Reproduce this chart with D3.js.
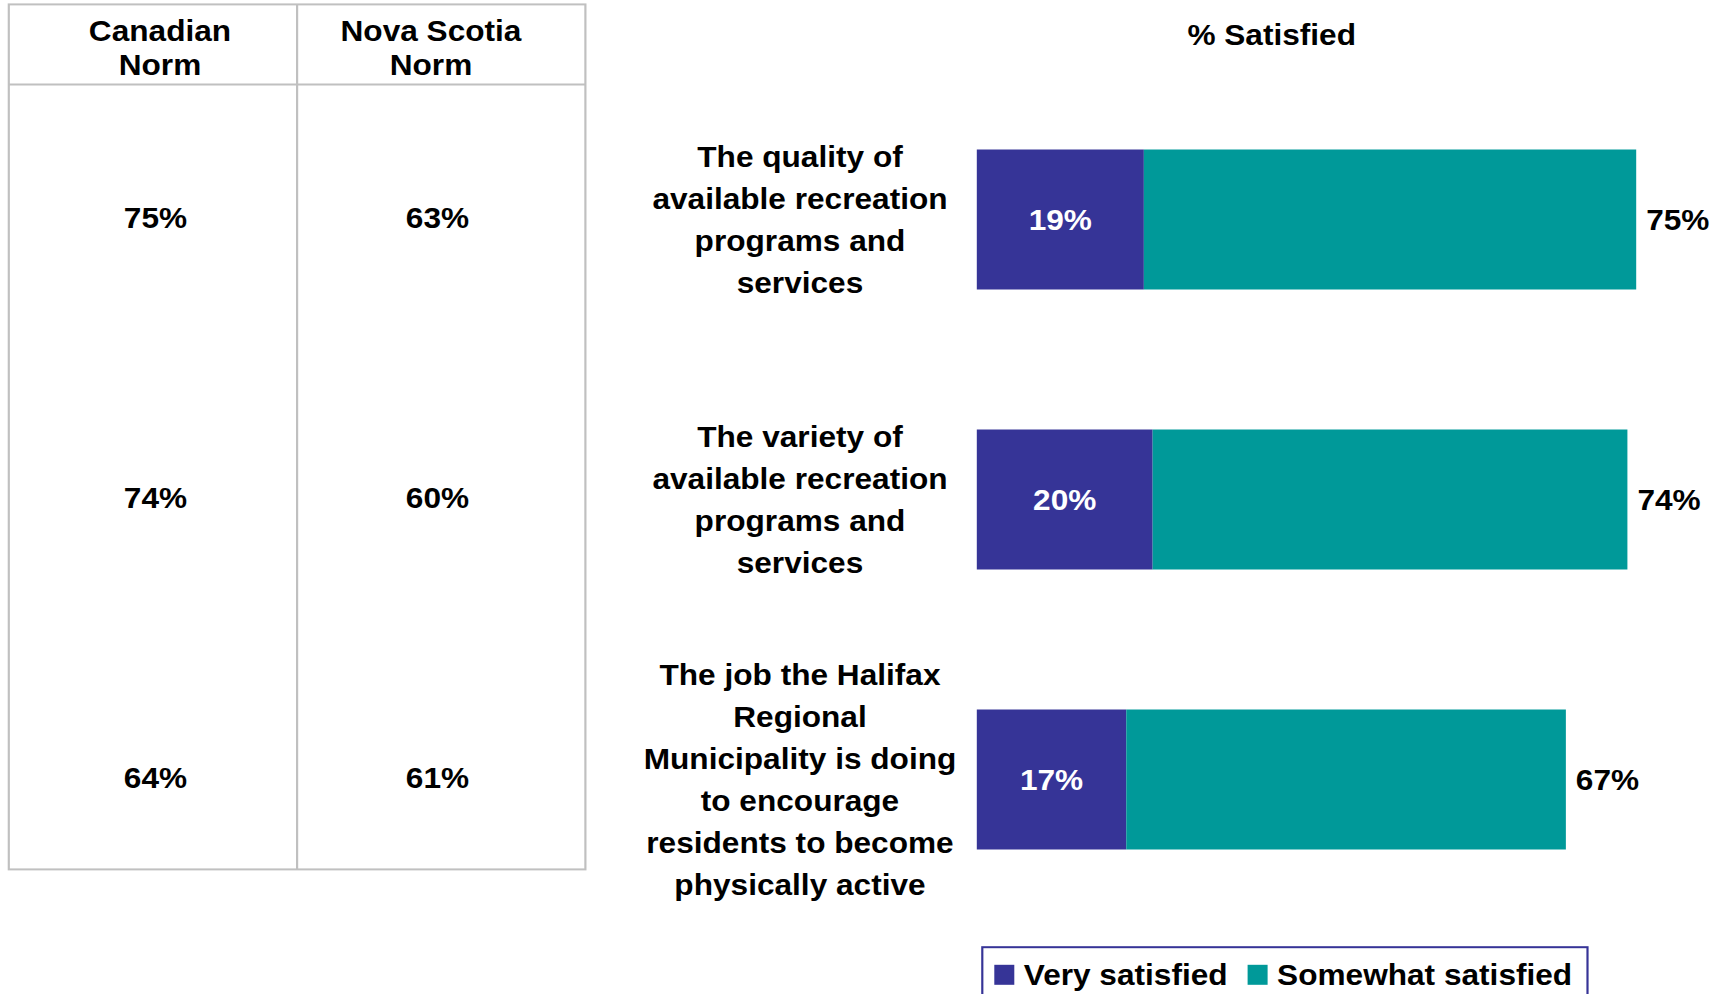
<!DOCTYPE html>
<html>
<head>
<meta charset="utf-8">
<script src="https://cdn.jsdelivr.net/npm/d3@7"></script>
<style>
  html, body { margin: 0; padding: 0; background: #ffffff; }
  svg { display: block; }
  text { font-family: Arial, "Liberation Sans", Arimo, Helvetica, sans-serif; font-weight: 700; }
</style>
</head>
<body>
<svg id="chart" width="1719" height="994"></svg>
<script>
// Survey items (one bar per item)
const categories = [
  "The quality of\navailable recreation\nprograms and\nservices",
  "The variety of\navailable recreation\nprograms and\nservices",
  "The job the Halifax\nRegional\nMunicipality is doing\nto encourage\nresidents to become\nphysically active"
];
const verySatisfied = [19, 20, 17];
const somewhatSatisfied = [56, 54, 50];
const totalSatisfied = [75, 74, 67];

// Comparison norms shown in the table
const tableHeaders = ["Canadian\nNorm", "Nova Scotia\nNorm"];
const canadianNorm = [75, 74, 64];
const novaScotiaNorm = [63, 60, 61];

const seriesNames = ["Very satisfied", "Somewhat satisfied"];
const seriesColors = ["#363497", "#009999"];
const chartTitle = "% Satisfied";

// Layout: the drawing is slightly widened horizontally
const SX = 1.09;
const X = v => v / SX;
const FS = 29;
const lineH = 42;

const svg = d3.select("#chart");
const g = svg.append("g").attr("transform", `scale(${SX},1)`);

const y = d3.scaleBand()
  .domain(d3.range(categories.length))
  .range([79.5, 919.5])
  .paddingInner(0.5)
  .paddingOuter(0.25);

const x = d3.scaleLinear().domain([0, 100]).range([X(976.8), X(1856)]);

// ---- Norms table ----
const tbl = { left: 8.8, mid: 297.1, right: 585.4, top: 4.4, head: 84.4, bottom: 869.4 };
const grid = g.append("g").attr("stroke", "#c0c0c0").attr("stroke-width", 2).attr("fill", "none");
grid.append("rect")
  .attr("x", X(tbl.left)).attr("y", tbl.top)
  .attr("width", X(tbl.right) - X(tbl.left)).attr("height", tbl.bottom - tbl.top);
grid.append("line").attr("x1", X(tbl.mid)).attr("x2", X(tbl.mid)).attr("y1", tbl.top).attr("y2", tbl.bottom);
grid.append("line").attr("x1", X(tbl.left)).attr("x2", X(tbl.right)).attr("y1", tbl.head).attr("y2", tbl.head);

const headerX = [160, 431];
const valueX = [155.5, 437.5];
tableHeaders.forEach((h, i) => {
  const t = g.append("text")
    .attr("text-anchor", "middle")
    .attr("font-size", FS)
    .attr("fill", "#000");
  h.split("\n").forEach((line, j) => {
    t.append("tspan").attr("x", X(headerX[i])).attr("y", 41.1 + j * 34).text(line);
  });
});

[canadianNorm, novaScotiaNorm].forEach((col, i) => {
  g.selectAll(null).data(col).join("text")
    .attr("x", X(valueX[i]))
    .attr("y", (d, k) => y(k) + y.bandwidth() / 2 - 2 + FS * 0.36)
    .attr("text-anchor", "middle")
    .attr("font-size", FS)
    .attr("fill", "#000")
    .text(d => d + "%");
});

// ---- Title ----
g.append("text")
  .attr("x", X(1271.7)).attr("y", 45.5)
  .attr("text-anchor", "middle")
  .attr("font-size", FS)
  .text(chartTitle);

// ---- Category labels ----
categories.forEach((c, i) => {
  const lines = c.split("\n");
  const cy = y(i) + y.bandwidth() / 2;
  const t = g.append("text").attr("text-anchor", "middle").attr("font-size", FS).attr("fill", "#000");
  lines.forEach((line, j) => {
    t.append("tspan")
      .attr("x", X(800))
      .attr("y", cy + (j - (lines.length - 1) / 2) * lineH + FS * 0.36)
      .text(line);
  });
});

// ---- Stacked bars ----
const rows = categories.map((c, i) => ({ i, very: verySatisfied[i], some: somewhatSatisfied[i], total: totalSatisfied[i] }));
const stack = d3.stack().keys(["very", "some"]);
const layers = stack(rows);

g.selectAll("g.layer").data(layers).join("g")
  .attr("class", "layer")
  .attr("fill", (d, k) => seriesColors[k])
  .selectAll("rect").data(d => d).join("rect")
  .attr("x", d => x(d[0]))
  .attr("width", d => x(d[1]) - x(d[0]))
  .attr("y", d => y(d.data.i))
  .attr("height", y.bandwidth());

// Values inside the "very satisfied" segments
g.selectAll("text.inner").data(rows).join("text")
  .attr("class", "inner")
  .attr("x", d => (x(0) + x(d.very)) / 2)
  .attr("y", d => y(d.i) + y.bandwidth() / 2 + FS * 0.36)
  .attr("text-anchor", "middle")
  .attr("font-size", FS)
  .attr("fill", "#ffffff")
  .text(d => d.very + "%");

// Total satisfied at bar ends
g.selectAll("text.total").data(rows).join("text")
  .attr("class", "total")
  .attr("x", d => x(d.total) + X(10))
  .attr("y", d => y(d.i) + y.bandwidth() / 2 + FS * 0.36)
  .attr("text-anchor", "start")
  .attr("font-size", FS)
  .attr("fill", "#000")
  .text(d => d.total + "%");

// ---- Legend ----
const lg = g.append("g");
lg.append("rect")
  .attr("x", X(982.3)).attr("y", 947.2)
  .attr("width", X(1587.5) - X(982.3)).attr("height", 70)
  .attr("fill", "#fff").attr("stroke", "#363497").attr("stroke-width", 2);
const legX = [994.3, 1247.6];
seriesNames.forEach((name, k) => {
  lg.append("rect")
    .attr("x", X(legX[k])).attr("y", 964.8)
    .attr("width", X(20)).attr("height", 20)
    .attr("fill", seriesColors[k]);
  lg.append("text")
    .attr("x", X(legX[k] + 29.5)).attr("y", 985)
    .attr("font-size", FS)
    .attr("fill", "#000")
    .text(name);
});
</script>
</body>
</html>
